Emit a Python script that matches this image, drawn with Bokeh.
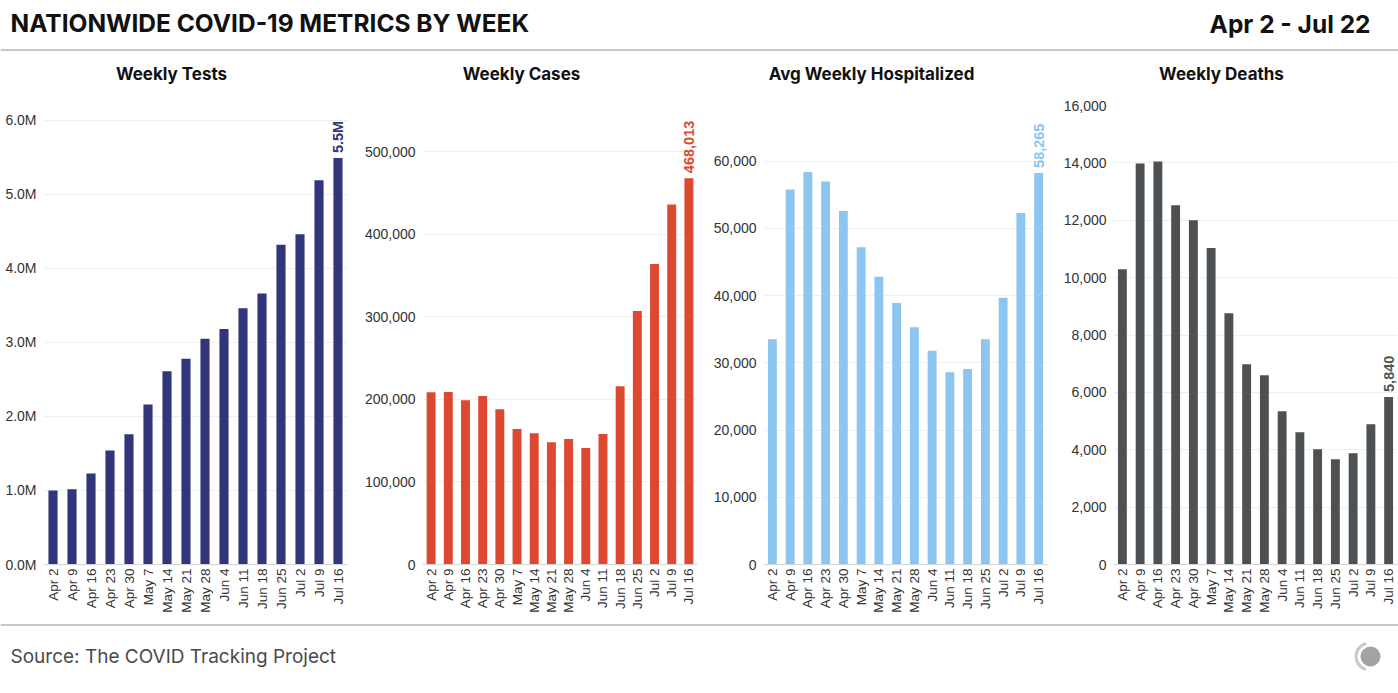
import numpy as np
from bokeh.plotting import figure
from bokeh.layouts import column, row
from bokeh.models import (FactorRange, Range1d, FixedTicker, NumeralTickFormatter,
                          CustomJSTickFormatter)
from bokeh.core.properties import value
from bokeh.embed import file_html
from bokeh.resources import INLINE

# ---------------- data ----------------
weeks = ["Apr 2", "Apr 9", "Apr 16", "Apr 23", "Apr 30", "May 7", "May 14", "May 21",
         "May 28", "Jun 4", "Jun 11", "Jun 18", "Jun 25", "Jul 2", "Jul 9", "Jul 16"]
tests = [1000000, 1015000, 1230000, 1540000, 1760000, 2160000, 2610000, 2780000,
         3050000, 3180000, 3460000, 3660000, 4320000, 4460000, 5190000, 5490000]
cases = [208800, 209000, 199000, 204000, 188000, 164000, 159000, 148000,
         152000, 141000, 158000, 216000, 307000, 364000, 436000, 468013]
hospitalized = [33500, 55800, 58400, 57000, 52600, 47200, 42800, 38900,
                35300, 31800, 28600, 29100, 33500, 39700, 52300, 58265]
deaths = [10290, 13980, 14050, 12520, 12000, 11030, 8760, 6980,
          6600, 5340, 4610, 4020, 3670, 3880, 4890, 5840]

panel_titles = ["Weekly Tests", "Weekly Cases", "Avg Weekly Hospitalized", "Weekly Deaths"]
main_title = "NATIONWIDE COVID-19 METRICS BY WEEK"
date_range = "Apr 2 - Jul 22"
source_text = "Source: The COVID Tracking Project"

TICK_FONT = value("Liberation Sans")
HEAD_FONT = value("Inter")


def panel(vals, color, label_color, ymax, step, formatter, label_text,
          width, left, right, bar_w):
    p = figure(x_range=FactorRange(*weeks, range_padding=0),
               y_range=Range1d(0, ymax),
               width=width, height=528,
               min_border_left=left, min_border_right=right,
               min_border_top=10, min_border_bottom=59,
               output_backend="svg", toolbar_location=None)
    p.outline_line_color = None
    p.background_fill_color = "white"
    p.border_fill_color = "white"
    p.vbar(x=weeks, top=vals, width=bar_w, fill_color=color, line_color=None)
    p.text(x=[weeks[-1]], y=[vals[-1]], text=[label_text], angle=np.pi / 2,
           text_align="left", text_baseline="middle", y_offset=-5,
           text_font=TICK_FONT, text_font_style="bold", text_font_size="14.5px",
           text_color=label_color)
    # y axis
    p.yaxis.ticker = FixedTicker(ticks=list(np.arange(0, ymax + 1, step)))
    p.yaxis.formatter = formatter
    p.yaxis.axis_line_color = None
    p.yaxis.major_tick_line_color = None
    p.yaxis.minor_tick_line_color = None
    p.yaxis.major_tick_out = 0
    p.yaxis.major_label_standoff = 7
    p.yaxis.major_label_text_font = "Liberation Sans"
    p.yaxis.major_label_text_font_size = "14px"
    p.yaxis.major_label_text_color = "#333333"
    # x axis
    p.xaxis.axis_line_color = "#d6d6d6"
    p.xaxis.axis_line_width = 1
    p.xaxis.major_tick_line_color = None
    p.xaxis.minor_tick_line_color = None
    p.xaxis.major_tick_out = 0
    p.xaxis.major_label_standoff = 4
    p.xaxis.major_label_orientation = np.pi / 2
    p.xaxis.major_label_text_font = "Liberation Sans"
    p.xaxis.major_label_text_font_size = "13.5px"
    p.xaxis.major_label_text_color = "#333333"
    # grid
    p.xgrid.grid_line_color = None
    p.ygrid.grid_line_color = "#efefef"
    p.ygrid.grid_line_width = 1
    return p


fmt_m = CustomJSTickFormatter(code="return (tick/1e6).toFixed(1) + 'M';")
fmt_n = NumeralTickFormatter(format="0,0")

p1 = panel(tests, "#31357a", "#31357a", 6.2e6, 1e6, fmt_m,
           f"{tests[-1] / 1e6:.1f}M", 350, 43, 3, 0.48)
p2 = panel(cases, "#dd4930", "#dd4930", 556000, 100000, fmt_n,
           f"{cases[-1]:,}", 350, 72, 3, 0.52)
p3 = panel(hospitalized, "#8cc5f0", "#8cc5f0", 68300, 10000, fmt_n,
           f"{hospitalized[-1]:,}", 350, 63, 3, 0.5)
p4 = panel(deaths, "#4d5153", "#555555", 16000, 2000, fmt_n,
           f"{deaths[-1]:,}", 348, 63, 1, 0.5)

# ---------------- header ----------------
W = 1398
head = figure(width=W, height=95, x_range=Range1d(0, W), y_range=Range1d(95, 0),
              x_axis_type=None, y_axis_type=None, min_border=0,
              output_backend="svg", toolbar_location=None)
head.outline_line_color = None
head.grid.grid_line_color = None
head.text(x=[10], y=[22], text=[main_title], text_font=HEAD_FONT, text_font_style="bold",
          text_font_size="24.5px", text_align="left", text_baseline="middle", text_color="#111111")
head.text(x=[1370], y=[23], text=[date_range], text_font=HEAD_FONT, text_font_style="bold",
          text_font_size="24.5px", text_align="right", text_baseline="middle", text_color="#111111")
head.segment(x0=[0], y0=[49.5], x1=[W], y1=[49.5], line_color="#b4b4b4", line_width=1.5)
head.text(x=[171, 521, 871, 1221], y=[73] * 4, text=panel_titles, text_font=HEAD_FONT,
          text_font_style="bold", text_font_size="17px", text_align="center",
          text_baseline="middle", text_color="#111111")

# ---------------- footer ----------------
foot = figure(width=W, height=70, x_range=Range1d(0, W), y_range=Range1d(693, 623),
              x_axis_type=None, y_axis_type=None, min_border=0,
              output_backend="svg", toolbar_location=None)
foot.outline_line_color = None
foot.grid.grid_line_color = None
foot.segment(x0=[0], y0=[624.5], x1=[W], y1=[624.5], line_color="#b4b4b4", line_width=1.5)
foot.text(x=[10], y=[656], text=[source_text], text_font=HEAD_FONT, text_font_size="19px",
          text_align="left", text_baseline="middle", text_color="#4a4a4a")
foot.annular_wedge(x=[1369], y=[656], inner_radius=12, outer_radius=15,
                   start_angle=np.radians(105), end_angle=np.radians(255),
                   fill_color="#c8c8c8", line_color=None)
foot.circle(x=[1370], y=[656], radius=10, fill_color="#a3a3a3", line_color=None)

layout = column(head, row(p1, p2, p3, p4), foot)
open("out.html", "w").write(file_html(layout, INLINE))
